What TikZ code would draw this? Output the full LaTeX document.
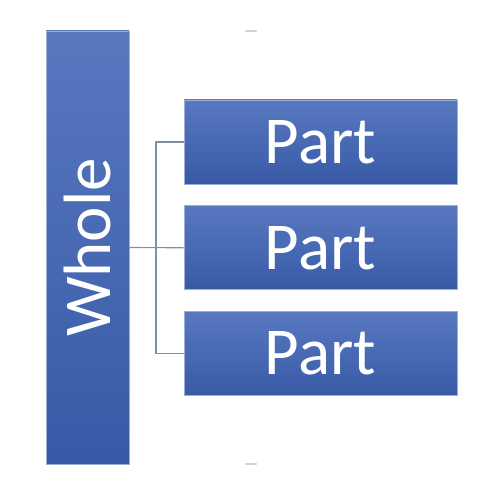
\documentclass[tikz,border=0pt]{standalone}
\usepackage{fontspec}
\setmainfont{Carlito}
\usepackage{color}
\definecolor{mylightblue}{RGB}{88,121,192}
\definecolor{mydarkblue}{RGB}{56,90,166}
\definecolor{mylinkgray}{RGB}{128,142,170}
\usetikzlibrary{positioning,calc}

\begin{document}
\begin{tikzpicture}[
  x=1pt,
  y=1pt,
  node distance=21pt,
  mybox/.style={
    draw=mylightblue!60!white,
    line width=0.8pt,
    text=white,
    inner sep=0pt,
    top color=mylightblue,
    bottom color=mydarkblue,
    font=\fontsize{67}{67}\selectfont
  },
  partrect/.style={
    mybox,
    minimum width=273pt,
    minimum height=84pt
  },
  wholerect/.style={
    mybox,
    rotate=90,
    minimum width=433pt,
    minimum height=83pt
  },
  link/.style={
    draw=mylinkgray,
    line width=1.1pt
  },
  handle/.style={
    draw=gray!35,
    line width=2.5pt,
    line cap=round
  }
]
\useasboundingbox (0,0) rectangle (484,492);

\node [wholerect] (whole) at (87.5,244.5) {Whole};

\node [partrect] (part1) at (320.5,350) {Part};
\node [partrect, below=of part1] (part2) {Part};
\node [partrect, below=of part2] (part3) {Part};

\coordinate (fork) at (156,245);
\coordinate (top mark) at (251,461);
\coordinate (bottom mark) at (251,28);

\draw [link] (part1.west) -| (fork) |- (part3.west);
\draw [link] (whole.south) -- (part2.west);

% small marks above and below
\draw [handle] ($(top mark)+(-5,0)$) -- ($(top mark)+(5,0)$);
\draw [handle] ($(bottom mark)+(-5,0)$) -- ($(bottom mark)+(5,0)$);

\end{tikzpicture}
\end{document}
